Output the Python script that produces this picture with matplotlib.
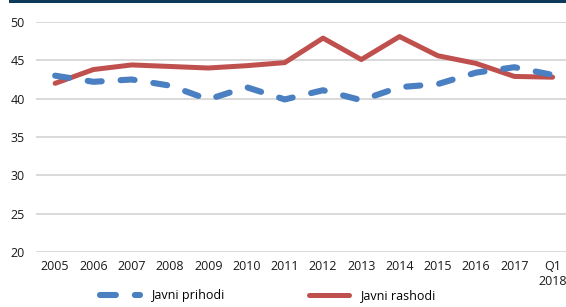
import matplotlib.pyplot as plt
from matplotlib.lines import Line2D

# data (% of GDP)
years = ['2005', '2006', '2007', '2008', '2009', '2010', '2011', '2012',
         '2013', '2014', '2015', '2016', '2017', 'Q1\n2018']
prihodi = [43.0, 42.2, 42.5, 41.7, 39.9, 41.5, 39.9, 41.1, 39.8, 41.5, 41.9, 43.4, 44.1, 43.1]
rashodi = [42.0, 43.8, 44.4, 44.2, 44.0, 44.3, 44.7, 47.9, 45.1, 48.1, 45.6, 44.6, 42.9, 42.8]

blue = '#4a7fc1'
red = '#c0504d'

plt.rcParams['font.family'] = ['Open Sans', 'DejaVu Sans']

fig = plt.figure(figsize=(5.66, 3.07), dpi=100)
ax = fig.add_axes([36 / 566, 1 - 252 / 307, 1 - 36 / 566, 230 / 307])

x = list(range(len(years)))
ax.plot(x, rashodi, color=red, lw=3.6, solid_capstyle='round', solid_joinstyle='round', zorder=3)
ax.plot(x, prihodi, color=blue, lw=4.4, dashes=(2.3, 3.1), dash_capstyle='round',
        dash_joinstyle='round', zorder=4)

ax.set_ylim(20, 50)
ax.set_xlim(-0.5, 13.35)
ax.set_yticks(range(20, 51, 5))
ax.set_xticks(x)
ax.set_xticklabels(years)
ax.tick_params(length=0, labelsize=9, colors='#1a1a1a', pad=6)
ax.tick_params(axis='y', pad=8)
ax.grid(axis='y', color='#d9d9d9', lw=1.4)
ax.set_axisbelow(True)
for s in ax.spines.values():
    s.set_visible(False)

# dark band at the top
fig.add_artist(plt.Rectangle((9 / 566, 1 - 3 / 307), 1, 3 / 307, transform=fig.transFigure,
                             color='#0d3a5a', lw=0))

handles = [Line2D([], [], color=blue, lw=4.4, dashes=(2.6, 3.1), dash_capstyle='round'),
           Line2D([], [], color=red, lw=3.6, solid_capstyle='round')]
fig.legend(handles, ['Javni prihodi', 'Javni rashodi'], loc='center left',
           bbox_to_anchor=(100 / 566, 1 - 296 / 307), ncol=2, frameon=False, fontsize=9,
           handlelength=3.2, handletextpad=0.85, columnspacing=6.8, borderpad=0, borderaxespad=0)

fig.savefig('out.png', dpi=100)
